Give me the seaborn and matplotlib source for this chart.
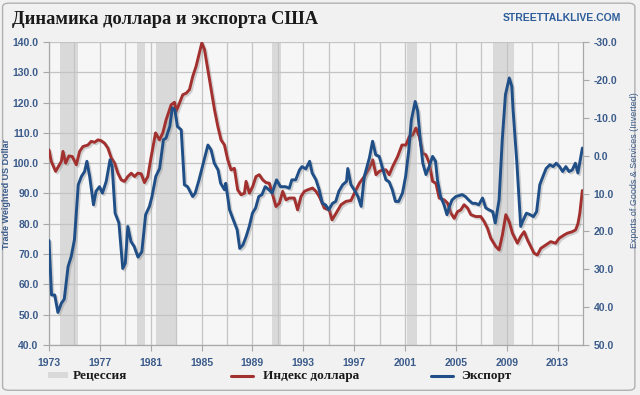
import numpy as np
import pandas as pd
import matplotlib
matplotlib.use("Agg")
import matplotlib.pyplot as plt
import matplotlib.patheffects as pe
from matplotlib.patches import FancyBboxPatch, Rectangle
from matplotlib.lines import Line2D
import seaborn as sns

# ---------------- data ----------------
dollar_years = [1973.0, 1973.18, 1973.52, 1973.97, 1974.1, 1974.31, 1974.57, 1974.83, 1975.15, 1975.41,
                1975.67, 1976.06, 1976.32, 1976.59, 1976.85, 1977.11, 1977.37, 1977.63, 1977.9, 1978.16,
                1978.42, 1978.68, 1978.94, 1979.2, 1979.47, 1979.73, 1979.99, 1980.25, 1980.51, 1980.77,
                1981.04, 1981.38, 1981.69, 1981.95, 1982.21, 1982.61, 1982.87, 1983.0, 1983.26, 1983.52,
                1983.79, 1984.05, 1984.31, 1984.57, 1984.83, 1985.02, 1985.23, 1985.49, 1985.75, 1986.02,
                1986.28, 1986.53, 1986.8, 1987.06, 1987.32, 1987.58, 1987.84, 1988.1, 1988.37, 1988.5,
                1988.76, 1989.02, 1989.28, 1989.54, 1989.81, 1990.07, 1990.33, 1990.59, 1990.85, 1991.12,
                1991.38, 1991.64, 1991.9, 1992.29, 1992.55, 1992.82, 1993.08, 1993.34, 1993.73, 1994.0,
                1994.26, 1994.65, 1995.04, 1995.26, 1995.58, 1995.97, 1996.36, 1996.75, 1997.02, 1997.41,
                1997.8, 1998.19, 1998.46, 1998.72, 1998.98, 1999.24, 1999.5, 1999.76, 2000.03, 2000.42,
                2000.76, 2001.07, 2001.34, 2001.6, 2001.86, 2002.12, 2002.38, 2002.64, 2002.91, 2003.17,
                2003.43, 2003.69, 2004.08, 2004.35, 2004.61, 2004.87, 2005.13, 2005.39, 2005.65, 2005.92,
                2006.18, 2006.57, 2006.96, 2007.23, 2007.49, 2007.75, 2008.14, 2008.4, 2008.66, 2008.93,
                2009.19, 2009.45, 2009.84, 2010.1, 2010.37, 2010.63, 2010.89, 2011.15, 2011.41, 2011.68,
                2012.07, 2012.46, 2012.85, 2013.12, 2013.51, 2013.77, 2014.16, 2014.42, 2014.6, 2014.75,
                2014.95]
dollar_index = [104.4, 100.6, 97.3, 100.6, 103.9, 100.0, 102.4, 102.2, 99.5, 103.9,
                105.5, 106.0, 107.2, 106.9, 107.7, 107.4, 106.6, 105.0, 101.7, 100.0,
                96.7, 94.5, 94.0, 95.6, 96.7, 95.6, 96.7, 96.5, 93.6, 95.6,
                102.2, 110.0, 107.7, 110.0, 114.3, 119.3, 120.1, 117.1, 119.8, 122.6,
                123.1, 124.3, 128.7, 132.0, 136.4, 139.7, 137.5, 130.9, 124.3, 117.6,
                112.1, 107.7, 106.0, 101.1, 97.8, 98.3, 91.2, 89.6, 90.1, 94.0,
                90.1, 92.3, 95.6, 96.2, 94.5, 93.6, 93.4, 89.6, 85.7, 86.8,
                90.7, 87.9, 88.5, 88.5, 84.6, 89.0, 90.7, 91.2, 91.8, 90.7,
                89.0, 85.2, 84.6, 81.3, 83.5, 86.3, 87.4, 87.7, 90.1, 93.4,
                95.6, 98.3, 101.1, 96.2, 97.3, 97.8, 97.8, 96.2, 98.9, 102.2,
                106.0, 106.0, 108.8, 109.3, 111.6, 108.8, 103.3, 102.8, 100.0, 94.0,
                93.4, 88.5, 87.9, 86.8, 83.5, 81.8, 84.0, 84.6, 86.3, 85.2,
                83.0, 82.4, 82.4, 80.7, 78.5, 75.2, 72.5, 71.4, 76.3, 83.0,
                80.7, 76.9, 73.6, 75.8, 77.4, 74.7, 72.5, 70.3, 69.7, 71.9,
                73.0, 74.1, 73.6, 75.2, 76.3, 76.9, 77.4, 78.0, 80.0, 83.5,
                91.0]

export_years = [1973.0, 1973.2, 1973.45, 1973.7, 1973.97, 1974.2, 1974.5, 1974.75, 1975.0, 1975.3,
                1975.55, 1975.8, 1975.98, 1976.2, 1976.5, 1976.7, 1976.97, 1977.2, 1977.5, 1977.8,
                1977.97, 1978.2, 1978.5, 1978.8, 1979.0, 1979.2, 1979.45, 1979.7, 1980.0, 1980.3,
                1980.6, 1980.9, 1981.1, 1981.4, 1981.7, 1982.0, 1982.2, 1982.5, 1982.7, 1982.9,
                1983.1, 1983.4, 1983.65, 1983.9, 1984.3, 1984.5, 1984.8, 1985.2, 1985.5, 1985.75,
                1986.0, 1986.3, 1986.5, 1986.8, 1986.9, 1987.2, 1987.5, 1987.8, 1988.0, 1988.25,
                1988.5, 1988.75, 1989.0, 1989.25, 1989.5, 1989.75, 1990.0, 1990.3, 1990.55, 1990.9,
                1991.2, 1991.6, 1991.9, 1992.1, 1992.4, 1992.7, 1992.9, 1993.2, 1993.5, 1993.7,
                1994.0, 1994.25, 1994.5, 1994.75, 1995.0, 1995.3, 1995.55, 1995.8, 1996.1, 1996.4,
                1996.5, 1996.75, 1997.0, 1997.3, 1997.55, 1997.8, 1998.2, 1998.45, 1998.7, 1998.97,
                1999.2, 1999.5, 1999.75, 2000.0, 2000.25, 2000.5, 2000.8, 2001.05, 2001.3, 2001.5,
                2001.8, 2002.0, 2002.2, 2002.4, 2002.65, 2002.9, 2003.17, 2003.4, 2003.55, 2003.8,
                2004.07, 2004.3, 2004.5, 2004.7, 2005.0, 2005.2, 2005.5, 2005.75, 2006.0, 2006.3,
                2006.55, 2006.8, 2007.1, 2007.35, 2007.6, 2007.9, 2008.1, 2008.4, 2008.65, 2008.9,
                2009.2, 2009.4, 2009.5, 2009.8, 2010.1, 2010.3, 2010.55, 2010.85, 2011.1, 2011.35,
                2011.6, 2011.85, 2012.1, 2012.4, 2012.65, 2012.9, 2013.15, 2013.4, 2013.65, 2013.9,
                2014.15, 2014.4, 2014.6, 2014.95]
exports_growth = [22.4, 36.8, 36.8, 41.4, 39.0, 37.9, 29.3, 26.6, 22.2, 7.7,
                  5.5, 4.2, 1.5, 5.5, 13.0, 9.4, 8.2, 9.9, 6.8, 1.1,
                  2.9, 15.2, 17.8, 29.8, 28.4, 18.7, 22.7, 24.0, 26.8, 25.4,
                  15.6, 13.4, 10.8, 5.5, 3.4, -4.2, -4.6, -7.7, -12.6, -12.1,
                  -7.7, -6.8, 7.7, 8.2, 10.8, 9.9, 6.4, 1.1, -2.8, -1.5,
                  2.0, 3.8, 7.3, 9.0, 7.3, 14.3, 17.0, 19.6, 24.5, 23.6,
                  21.4, 18.7, 15.2, 13.8, 10.8, 10.3, 8.2, 9.0, 9.9, 6.4,
                  8.2, 8.2, 8.6, 6.4, 6.4, 3.8, 2.9, 3.5, 1.5, 4.6,
                  6.4, 9.0, 12.6, 13.0, 14.3, 12.6, 12.1, 9.4, 7.7, 6.8,
                  3.4, 7.7, 9.0, 10.8, 13.4, 5.5, 0.6, -3.8, -0.2, 0.2,
                  2.9, 6.4, 6.9, 9.0, 12.1, 12.1, 9.9, 5.5, -1.5, -9.4,
                  -14.3, -11.7, -4.2, 2.0, 5.0, 2.9, 0.2, 1.5, 6.4, 10.8,
                  13.0, 15.6, 13.4, 11.7, 10.8, 10.6, 10.3, 10.8, 11.7, 12.6,
                  12.6, 13.0, 11.2, 13.8, 14.3, 14.8, 17.8, 11.7, -4.2, -16.1,
                  -20.5, -18.3, -12.1, 2.0, 18.7, 17.0, 15.2, 15.6, 16.1, 14.8,
                  7.7, 5.5, 3.4, 2.4, 2.9, 2.0, 2.9, 4.2, 2.9, 4.2,
                  3.8, 2.0, 4.6, -2.0]

recession_start = [1973.85, 1979.95, 1981.45, 1990.5, 2001.15, 2007.9]
recession_end = [1975.25, 1980.55, 1982.95, 1991.25, 2001.95, 2009.55]

left_ticks = [40, 50, 60, 70, 80, 90, 100, 110, 120, 130, 140]
right_ticks = [-30, -20, -10, 0, 10, 20, 30, 40, 50]
year_ticks = [1973, 1977, 1981, 1985, 1989, 1993, 1997, 2001, 2005, 2009, 2013]

title = "Динамика доллара и экспорта США"
source = "STREETTALKLIVE.COM"
left_label = "Trade Weighted US Dollar"
right_label = "Exports of Goods & Services (Inverted)"
legend_labels = ["Рецессия", "Индекс доллара", "Экспорт"]

# ---------------- style ----------------
sns.set_theme(style="white")
plt.rcParams["font.family"] = ["Liberation Sans", "DejaVu Sans"]

RED = "#a2302e"
BLUE = "#204f87"
TICKC = "#3b5b8a"
GRID = "#c4c4c4"
SHADE = "#d9d9d9"
FIGBG = "#f1f1f1"
AXBG = "#f6f6f6"
SERIF = ["Liberation Serif", "DejaVu Serif"]

W, H = 640, 395
fig = plt.figure(figsize=(6.4, 3.95), dpi=100, facecolor=FIGBG)
ax = fig.add_axes([49 / W, 1 - 345 / H, (583 - 49) / W, (345 - 42) / H])
ax.set_facecolor(AXBG)

# frame around the figure
fig.patches.append(FancyBboxPatch((0.004, 0.012), 0.988, 0.98, boxstyle="round,pad=0,rounding_size=0.01",
                                  transform=fig.transFigure, facecolor="none", edgecolor="#b0b0b0",
                                  linewidth=1.0, zorder=-1))

for s, e in zip(recession_start, recession_end):
    ax.axvspan(s, e, color=SHADE, lw=0, zorder=0.5)

shadow = [pe.SimpleLineShadow(offset=(1.2, -1.2), shadow_color="#888888", alpha=0.35), pe.Normal()]

df_d = pd.DataFrame({"year": dollar_years, "value": dollar_index})
df_e = pd.DataFrame({"year": export_years, "value": exports_growth})

sns.lineplot(data=df_d, x="year", y="value", ax=ax, color=RED, lw=2.1, zorder=3,
             path_effects=shadow)
ax.set_xlim(1973, 2015)
ax.set_ylim(40, 140)
ax.set_yticks(left_ticks)
ax.set_yticklabels([f"{v:.1f}" for v in left_ticks])
ax.set_xticks(year_ticks)
ax.set_xticklabels([str(y) for y in year_ticks])
ax.set_xticks(np.arange(1975, 2015, 4), minor=True)
ax.grid(True, which="both", axis="x", color=GRID, lw=0.9, zorder=1)
ax.grid(True, which="major", axis="y", color=GRID, lw=0.9, zorder=1)
ax.set_axisbelow(True)
ax.set_xlabel("")
ax.set_ylabel(left_label, color=TICKC, fontsize=6.5, fontweight="bold")
ax.yaxis.set_label_coords((11 - 49) / (583 - 49), 0.5)

ax2 = ax.twinx()
sns.lineplot(data=df_e, x="year", y="value", ax=ax2, color=BLUE, lw=2.1, zorder=4,
             path_effects=shadow)
ax2.set_ylim(50, -30)
ax2.set_yticks(right_ticks)
ax2.set_yticklabels([f"{v:.1f}" for v in right_ticks])
ax2.set_xlim(1973, 2015)
ax2.set_xlabel("")
ax2.set_ylabel(right_label, color=TICKC, fontsize=6.4, fontweight="normal")
ax2.yaxis.set_label_coords((630 - 49) / (583 - 49), (345 - 170) / (345 - 42))
ax2.grid(False)

for a in (ax, ax2):
    for sp in a.spines.values():
        sp.set_visible(False)
ax.spines["left"].set_visible(True)
ax.spines["bottom"].set_visible(True)
ax2.spines["right"].set_visible(True)
for sp in (ax.spines["left"], ax.spines["bottom"], ax2.spines["right"]):
    sp.set_color("#a8a8a8")
    sp.set_linewidth(0.9)

ax.tick_params(axis="both", which="major", direction="out", length=4, width=0.8, color="#a8a8a8",
               labelsize=7.5, labelcolor=TICKC, left=True, bottom=True, pad=3.5)
ax.tick_params(axis="x", which="minor", length=0)
ax.tick_params(axis="x", which="major", pad=5)
ax2.tick_params(axis="y", direction="out", length=4, width=0.8, color="#a8a8a8",
                labelsize=7.5, labelcolor=TICKC, right=True, pad=3.5)
for lab in ax.get_xticklabels() + ax.get_yticklabels() + ax2.get_yticklabels():
    lab.set_fontweight("bold")

# title and source
fig.text(12 / W, 1 - 20 / H, title, fontsize=13.3, fontweight="bold", family=SERIF,
         color="#1a1a1a", va="center", ha="left")
fig.text(621 / W, 1 - 18 / H, source, fontsize=7.5, fontweight="bold",
         family=["Liberation Sans Narrow", "Liberation Sans"],
         color="#2d5d9b", va="center", ha="right")

# legend (drawn in figure pixels)
ly = 1 - 376 / H
fig.patches.append(Rectangle((48 / W, 1 - 378 / H), 20 / W, 6 / H, transform=fig.transFigure,
                             facecolor=SHADE, edgecolor="none"))
fig.lines.append(Line2D([231 / W, 253 / W], [ly, ly], transform=fig.transFigure, color=RED, lw=2.2))
fig.lines.append(Line2D([431 / W, 453 / W], [ly, ly], transform=fig.transFigure, color=BLUE, lw=2.2))
for xpos, lab in zip([73, 263, 461], legend_labels):
    fig.text(xpos / W, ly, lab, family=SERIF, fontweight="bold", fontsize=9.5,
             color="#1a1a1a", va="center", ha="left")

fig.savefig("out.png", dpi=100, facecolor=FIGBG)
